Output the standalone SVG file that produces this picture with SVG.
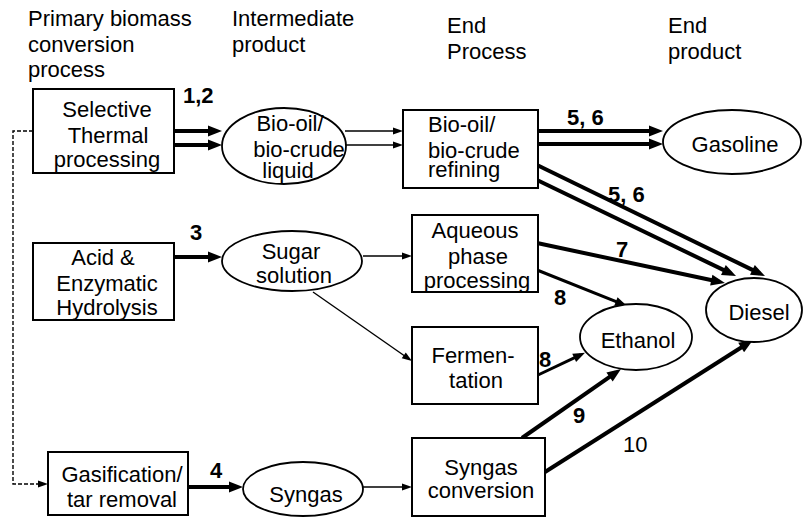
<svg xmlns="http://www.w3.org/2000/svg" width="803" height="520" viewBox="0 0 803 520">
<style>
text{font-family:"Liberation Sans",Arial,sans-serif;font-size:22px;fill:#000}
.m{text-anchor:middle}
.b{font-weight:bold}
.box{fill:#fff;stroke:#000;stroke-width:2}
.ell{fill:#fff;stroke:#000;stroke-width:1.8}
.thick{stroke:#000;stroke-width:4;fill:none;marker-end:url(#ah)}
.med{stroke:#000;stroke-width:3;fill:none;marker-end:url(#am)}
.thin{stroke:#000;stroke-width:1.4;fill:none;marker-end:url(#at)}
.dash{stroke:#000;stroke-width:1.4;fill:none;stroke-dasharray:4 2;marker-end:url(#at)}
</style>
<defs>
<marker id="ah" markerUnits="userSpaceOnUse" viewBox="-9 -6 16 12" refX="0" refY="0" markerWidth="16" markerHeight="12" orient="auto"><path d="M-8,-5.5 L6,0 L-8,5.5 z" fill="#000"/></marker>
<marker id="am" markerUnits="userSpaceOnUse" viewBox="-8 -5 14 10" refX="0" refY="0" markerWidth="14" markerHeight="10" orient="auto"><path d="M-7,-4.5 L5,0 L-7,4.5 z" fill="#000"/></marker>
<marker id="at" markerUnits="userSpaceOnUse" viewBox="-7 -4 12 8" refX="0" refY="0" markerWidth="12" markerHeight="8" orient="auto"><path d="M-6,-3.5 L4,0 L-6,3.5 z" fill="#000"/></marker>
</defs>

<g id="headers">
<text x="28" y="26">Primary biomass</text>
<text x="28" y="52">conversion</text>
<text x="28" y="77">process</text>
<text x="232" y="26">Intermediate</text>
<text x="232" y="52">product</text>
<text x="447" y="33">End</text>
<text x="447" y="59">Process</text>
<text x="668" y="33">End</text>
<text x="668" y="59">product</text>
</g>

<g id="connectors">
<path class="dash" d="M33,131 H13 V484 H44"/>
<path class="thick" d="M174,131 H216"/>
<path class="thick" d="M174,145 H216"/>
<path class="thin" d="M345,131 H399"/>
<path class="thin" d="M346,145 H399"/>
<path class="thick" d="M538,131 H657"/>
<path class="thick" d="M538,144 H657"/>
<path class="thick" d="M537,165 L759.6,273.4"/>
<path class="thick" d="M537,180 L730.6,273.4"/>
<path class="thick" d="M174,257 H216"/>
<path class="thin" d="M363,256 H408"/>
<path class="thin" d="M313,292 L408.7,358.7"/>
<path class="thick" d="M537,243 L719.1,281.8"/>
<path class="med" d="M537,270 L622.4,304.1"/>
<path class="med" d="M538,375 L580.5,354.9"/>
<path class="thick" d="M188,487 H237"/>
<path class="thin" d="M363,487 H408"/>
<path class="thick" d="M522,438 L616.1,372.4"/>
<path class="thick" d="M545,472 L747.9,343.2"/>
</g>

<g id="labels">
<text class="b" x="183" y="103">1,2</text>
<text class="b" x="567" y="125">5, 6</text>
<text class="b" x="608" y="202">5, 6</text>
<text class="b" x="190" y="240">3</text>
<text class="b" x="616" y="257">7</text>
<text class="b" x="554" y="305">8</text>
<text class="b" x="539" y="367">8</text>
<text class="b" x="210" y="478">4</text>
<text class="b" x="573" y="423">9</text>
<text x="623" y="452">10</text>
</g>

<g id="selective-thermal">
<rect class="box" x="33" y="89" width="141" height="84"/>
<text class="m" x="107" y="117">Selective</text>
<text class="m" x="108" y="143">Thermal</text>
<text class="m" x="107" y="167">processing</text>
</g>

<g id="bio-oil-liquid">
<ellipse class="ell" cx="284" cy="146" rx="62" ry="38"/>
<text class="m" x="290" y="131">Bio-oil/</text>
<text class="m" x="299" y="157">bio-crude</text>
<text class="m" x="288" y="178">liquid</text>
</g>

<g id="bio-oil-refining">
<rect class="box" x="403" y="110" width="135" height="78"/>
<text x="428" y="132">Bio-oil/</text>
<text x="428" y="158">bio-crude</text>
<text x="428" y="177">refining</text>
</g>

<g id="gasoline">
<ellipse class="ell" cx="732" cy="142" rx="69" ry="32"/>
<text class="m" x="735" y="152">Gasoline</text>
</g>

<g id="acid-hydrolysis">
<rect class="box" x="33" y="243" width="141" height="77"/>
<text class="m" x="103" y="265">Acid &amp;</text>
<text class="m" x="107" y="291">Enzymatic</text>
<text class="m" x="107" y="315">Hydrolysis</text>
</g>

<g id="sugar-solution">
<ellipse class="ell" cx="292" cy="261" rx="70" ry="30"/>
<text class="m" x="291" y="259">Sugar</text>
<text class="m" x="294" y="283">solution</text>
</g>

<g id="aqueous-phase">
<rect class="box" x="412" y="215" width="126" height="77"/>
<text class="m" x="475" y="238">Aqueous</text>
<text class="m" x="478" y="264">phase</text>
<text class="m" x="477" y="288">processing</text>
</g>

<g id="fermentation">
<rect class="box" x="412" y="327" width="126" height="77"/>
<text class="m" x="473" y="363">Fermen-</text>
<text class="m" x="476" y="388">tation</text>
</g>

<g id="ethanol">
<ellipse class="ell" cx="636" cy="337" rx="56" ry="33"/>
<text class="m" x="638" y="348">Ethanol</text>
</g>

<g id="diesel">
<ellipse class="ell" cx="754" cy="310" rx="48" ry="32"/>
<text class="m" x="759" y="320">Diesel</text>
</g>

<g id="gasification">
<rect class="box" x="48" y="452" width="140" height="63"/>
<text class="m" x="122" y="482">Gasification/</text>
<text class="m" x="122" y="507">tar removal</text>
</g>

<g id="syngas">
<ellipse class="ell" cx="303" cy="489" rx="60" ry="27"/>
<text class="m" x="306" y="502">Syngas</text>
</g>

<g id="syngas-conversion">
<rect class="box" x="412" y="438" width="133" height="78"/>
<text class="m" x="481" y="475">Syngas</text>
<text class="m" x="481" y="498">conversion</text>
</g>
</svg>
